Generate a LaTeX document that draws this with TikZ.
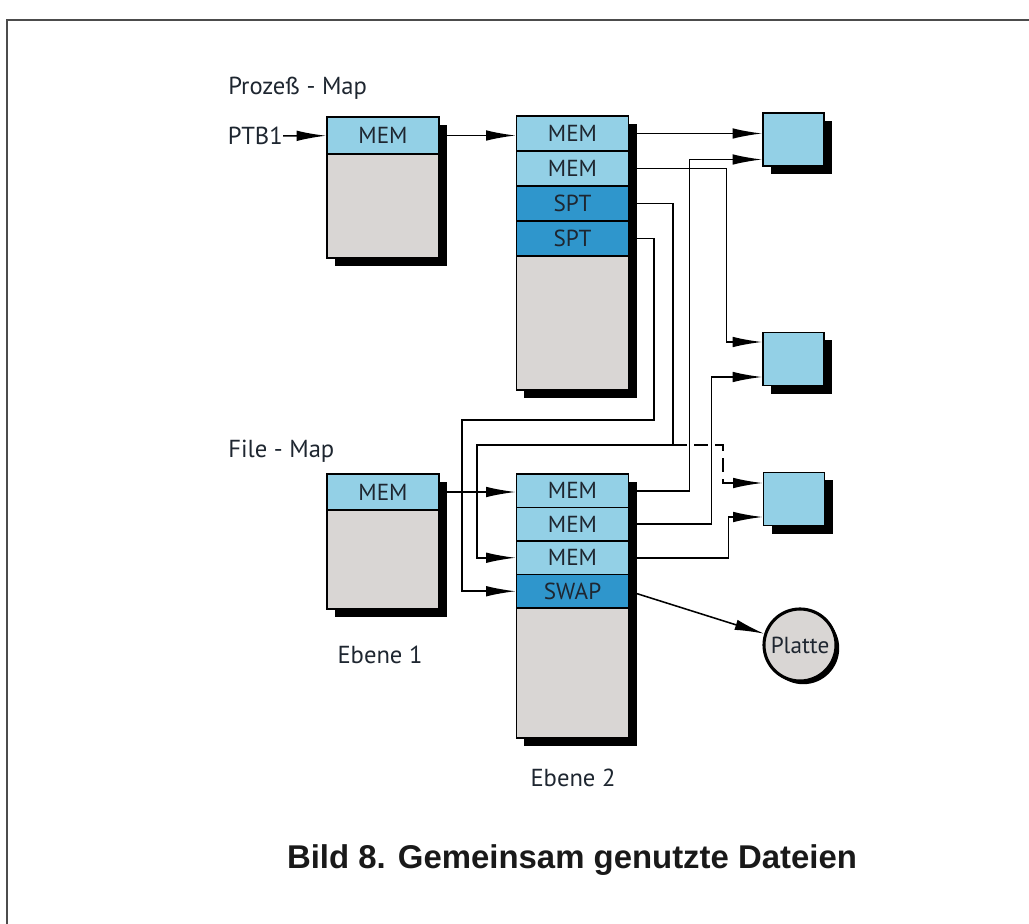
\documentclass[tikz,border=0pt]{standalone}
\usepackage{fontspec}
\setmainfont{PT Sans}
\newfontfamily\capfont{Liberation Sans}
\usetikzlibrary{arrows.meta,positioning,calc,shadows}
\definecolor{memblue}{HTML}{93D0E6}
\definecolor{sptblue}{HTML}{2F96CC}
\definecolor{restgray}{HTML}{D9D6D4}
\definecolor{inkdark}{HTML}{1E2630}

\begin{document}
\begin{tikzpicture}[
    x=0.025cm, y=-0.025cm,
    frame/.style={rectangle, draw, line width=1.3pt, fill=restgray, inner sep=0pt, minimum width=2.8cm,
      drop shadow={shadow xshift=0.2cm, shadow yshift=-0.2cm, fill=black, opacity=1}},
    cell/.style={rectangle, draw, line width=1.2pt, inner sep=0pt, minimum width=2.8cm,
      font=\fontsize{16.5}{19}\selectfont, text=inkdark},
    mem/.style={cell, fill=memblue},
    spt/.style={cell, fill=sptblue},
    page/.style={rectangle, draw, line width=1.3pt, fill=memblue, inner sep=0pt,
      minimum width=1.525cm, minimum height=1.325cm,
      drop shadow={shadow xshift=0.2cm, shadow yshift=-0.2cm, fill=black, opacity=1}},
    disk/.style={circle, draw, line width=2.2pt, fill=restgray, inner sep=0pt, minimum size=1.8cm,
      font=\fontsize{16.5}{19}\selectfont, text=inkdark,
      drop shadow={shadow xshift=0.08cm, shadow yshift=-0.08cm, fill=black, opacity=1}},
    lbl/.style={font=\fontsize{17.5}{21}\selectfont, text=inkdark, inner sep=0pt},
    arr/.style={-{Latex[length=21pt,width=7.5pt]}, line width=1.1pt}
]
    \useasboundingbox (0,0) rectangle (1029,924);
    \draw[line width=1.2pt, black!70] (7,924) -- (7,20) -- (1029,20);

    % Prozess-Map
    \node[lbl, anchor=base west] (pmap) at (228,95) {Prozeß - Map};
    \node[lbl, anchor=east] (ptb) at (283,136) {PTB1};
    \node[frame, minimum height=3.525cm] (pm1) at (383,187.5) {};
    \node[mem, minimum height=0.925cm] (pm1mem) at (383,135.5) {MEM};

    \node[frame, minimum height=6.85cm] (pm2) at (572.5,253) {};
    \node[mem, minimum height=0.875cm] (pm2mem1) at (572.5,133.5) {MEM};
    \node[mem, minimum height=0.875cm] (pm2mem2) at (572.5,168.5) {MEM};
    \node[spt, minimum height=0.875cm] (pm2spt1) at (572.5,203.5) {SPT};
    \node[spt, minimum height=0.875cm] (pm2spt2) at (572.5,238.5) {SPT};

    % File-Map
    \node[lbl, anchor=base west] (fmap) at (228,457) {File - Map};
    \node[frame, minimum height=3.375cm] (fm1) at (383,541.5) {};
    \node[mem, minimum height=0.9cm] (fm1mem) at (383,492) {MEM};
    \node[lbl] (eb1) at (380,655) {Ebene 1};

    \node[frame, minimum height=6.6cm] (fm2) at (572.5,606) {};
    \node[mem, minimum height=0.8375cm] (fm2mem1) at (572.5,490.75) {MEM};
    \node[mem, minimum height=0.8375cm] (fm2mem2) at (572.5,524.25) {MEM};
    \node[mem, minimum height=0.8375cm] (fm2mem3) at (572.5,557.75) {MEM};
    \node[spt, minimum height=0.8375cm] (fm2swap) at (572.5,591.25) {SWAP};
    \node[lbl] (eb2) at (573,778) {Ebene 2};

    % Seiten und Platte
    \node[page] (sq1) at (793.5,139.5) {};
    \node[page] (sq2) at (793.5,359) {};
    \node[page] (sq3) at (794,499) {};
    \node[disk] (platte) at (800,645) {Platte};

    \node[font=\capfont\bfseries\fontsize{23.4}{28}\selectfont, text=black!90] (cap) at (572,860)
        {Bild 8. Gemeinsam genutzte Dateien};

    \coordinate (bend1) at (673,445);
    \coordinate (bend2) at (654,420);

    \draw[arr] (ptb) -- (pm1mem);
    \draw[arr] (pm1mem.east) -- (pm1mem.east -| pm2mem1.west);
    \draw[arr] (pm2mem1.east) -- (pm2mem1.east -| sq1.west);
    \draw[arr] (fm2mem1.east) -- ++(60,0) |- ($(sq1.west)+(0,20)$);
    \draw[arr] (pm2mem2.east) -- ++(97,0) |- ($(sq2.west)+(0,-17)$);
    \draw[arr] (fm2mem2.east) -- ++(82,0) |- ($(sq2.west)+(0,18)$);
    \draw[arr] (pm2spt1.east) -| (bend1) -- ++(-196,0) |- (fm2mem3.west);
    \draw[arr, dash pattern=on 10pt off 5pt] (bend1) -- ++(50,0) |- ($(sq3.west)+(0,-16)$);
    \draw[arr] (pm2spt2.east) -| (bend2) -- ++(-192,0) |- (fm2swap.west);
    \draw[arr] (fm2mem3.east) -- ++(99,0) |- ($(sq3.west)+(0,18)$);
    \draw[arr] (fm1mem.east) -- (fm1mem.east -| fm2mem1.west);
    \draw[arr] (fm2swap.east) -- (platte);
\end{tikzpicture}
\end{document}
